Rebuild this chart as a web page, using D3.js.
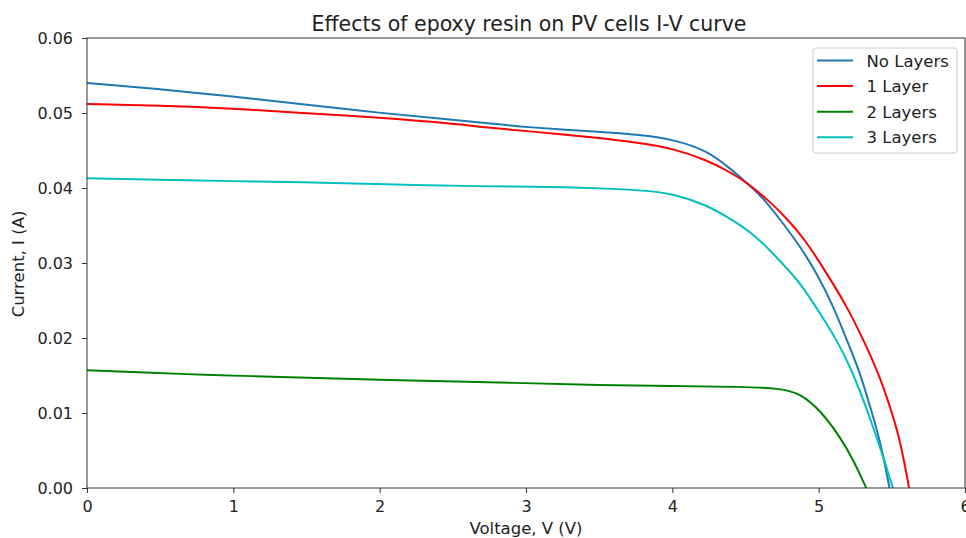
<!DOCTYPE html>
<html>
<head>
<meta charset="utf-8">
<script src="https://cdn.jsdelivr.net/npm/d3@7"></script>
<style>
  body { margin: 0; background: #fff; }
  svg { font-family: "DejaVu Sans", sans-serif; }
</style>
</head>
<body>
<svg id="chart" width="966" height="538"></svg>
<script>
// Curvas I-V: [voltaje (V), corriente (A)]
const noLayers = [
  [0, 0.0540], [0.5, 0.0532], [1.0, 0.0522], [1.46, 0.0512], [2.0, 0.0500],
  [2.5, 0.0491], [2.76, 0.0486], [3.0, 0.0481], [3.5, 0.0475], [3.78, 0.0471],
  [4.0, 0.0465], [4.24, 0.0450], [4.395, 0.0426], [4.532, 0.0403], [4.623, 0.0386],
  [4.737, 0.0358], [4.874, 0.0322], [4.988, 0.0286], [5.101, 0.0242], [5.193, 0.0197],
  [5.284, 0.0153], [5.352, 0.0108], [5.42, 0.0064], [5.484, 0]
];
const oneLayer = [
  [0, 0.0512], [0.5, 0.0510], [1.0, 0.0506], [1.46, 0.0500], [2.0, 0.0494],
  [2.5, 0.0486], [2.76, 0.0480], [3.0, 0.0476], [3.5, 0.0467], [3.78, 0.0460],
  [4.0, 0.0453], [4.24, 0.0437], [4.395, 0.0421], [4.51, 0.0407], [4.65, 0.0385],
  [4.78, 0.0360], [4.908, 0.0331], [5.056, 0.0286], [5.193, 0.0242], [5.307, 0.0197],
  [5.409, 0.0153], [5.489, 0.0108], [5.557, 0.0064], [5.618, 0]
];
const twoLayers = [
  [0, 0.0157], [0.77, 0.0151], [1.0, 0.0150], [2.0, 0.0144], [3.0, 0.0140],
  [3.5, 0.0137], [4.0, 0.0136], [4.46, 0.0135], [4.74, 0.0133], [4.874, 0.0126],
  [5.01, 0.0104], [5.147, 0.0068], [5.238, 0.0037], [5.325, 0]
];
const threeLayers = [
  [0, 0.0413], [0.5, 0.0411], [1.0, 0.0409], [1.46, 0.0408], [2.0, 0.0405],
  [2.76, 0.0402], [3.0, 0.0402], [3.5, 0.0400], [3.78, 0.0397], [4.0, 0.0393],
  [4.24, 0.0377], [4.395, 0.0359], [4.532, 0.0342], [4.669, 0.0317], [4.805, 0.0288],
  [4.874, 0.0273], [5.01, 0.0233], [5.124, 0.0197], [5.215, 0.0162], [5.307, 0.0117],
  [5.387, 0.0073], [5.455, 0.0033], [5.507, 0]
];

const seriesNames = ['No Layers', '1 Layer', '2 Layers', '3 Layers'];
const seriesData = [noLayers, oneLayer, twoLayers, threeLayers];
const seriesColors = ['#1f77b4', '#ff0000', '#008000', '#00bfbf'];

const xTicks = [0, 1, 2, 3, 4, 5, 6];
const yTicks = [0, 0.01, 0.02, 0.03, 0.04, 0.05, 0.06];

const svg = d3.select('#chart');
const m = { left: 87, right: 965, top: 38, bottom: 488 };

const x = d3.scaleLinear().domain([0, 6]).range([m.left, m.right]);
const y = d3.scaleLinear().domain([0, 0.06]).range([m.bottom, m.top]);

// clip para que las curvas no salgan del área
svg.append('defs').append('clipPath').attr('id', 'plotClip')
  .append('rect')
  .attr('x', m.left).attr('y', m.top)
  .attr('width', m.right - m.left).attr('height', m.bottom - m.top);

// basis suaviza el ruido de la lectura
const line = d3.line()
  .x(d => x(d[0]))
  .y(d => y(d[1]))
  .curve(d3.curveBasis);

svg.append('g').attr('clip-path', 'url(#plotClip)')
  .selectAll('path')
  .data(seriesData)
  .join('path')
  .attr('fill', 'none')
  .attr('stroke', (d, i) => seriesColors[i])
  .attr('stroke-width', 2)
  .attr('d', line);

// ejes
const xAxis = svg.append('g')
  .attr('transform', `translate(0,${m.bottom})`)
  .call(d3.axisBottom(x).tickValues(xTicks).tickFormat(d3.format('d')).tickSize(5).tickPadding(8));
const yAxis = svg.append('g')
  .attr('transform', `translate(${m.left},0)`)
  .call(d3.axisLeft(y).tickValues(yTicks).tickFormat(d3.format('.2f')).tickSize(5).tickPadding(9));

[xAxis, yAxis].forEach(a => {
  a.select('.domain').remove();
  a.selectAll('line').attr('stroke', '#333');
  a.selectAll('text').attr('font-size', 16).attr('fill', '#222')
    .attr('font-family', '"DejaVu Sans", sans-serif');
});

// marco
svg.append('rect')
  .attr('x', m.left).attr('y', m.top)
  .attr('width', m.right - m.left).attr('height', m.bottom - m.top)
  .attr('fill', 'none').attr('stroke', '#333').attr('stroke-width', 1);

// textos
svg.append('text')
  .attr('x', 529).attr('y', 31)
  .attr('text-anchor', 'middle').attr('font-size', 20.5).attr('fill', '#222')
  .text('Effects of epoxy resin on PV cells I-V curve');

svg.append('text')
  .attr('x', (m.left + m.right) / 2).attr('y', 534)
  .attr('text-anchor', 'middle').attr('font-size', 16.5).attr('fill', '#222')
  .text('Voltage, V (V)');

svg.append('text')
  .attr('transform', `translate(24,264) rotate(-90)`)
  .attr('text-anchor', 'middle').attr('font-size', 16.5).attr('fill', '#222')
  .text('Current, I (A)');

// leyenda
const legend = svg.append('g').attr('transform', 'translate(813,48)');
legend.append('rect')
  .attr('width', 144).attr('height', 105).attr('rx', 3)
  .attr('fill', '#fff').attr('fill-opacity', 0.8)
  .attr('stroke', '#ccc');
const items = legend.selectAll('g.item')
  .data(seriesNames)
  .join('g').attr('class', 'item')
  .attr('transform', (d, i) => `translate(0,${12.5 + i * 25.6})`);
items.append('line')
  .attr('x1', 4).attr('x2', 40)
  .attr('stroke', (d, i) => seriesColors[i]).attr('stroke-width', 2);
items.append('text')
  .attr('x', 53.5).attr('y', 6)
  .attr('font-size', 16.5).attr('fill', '#222')
  .text(d => d);
</script>
</body>
</html>
